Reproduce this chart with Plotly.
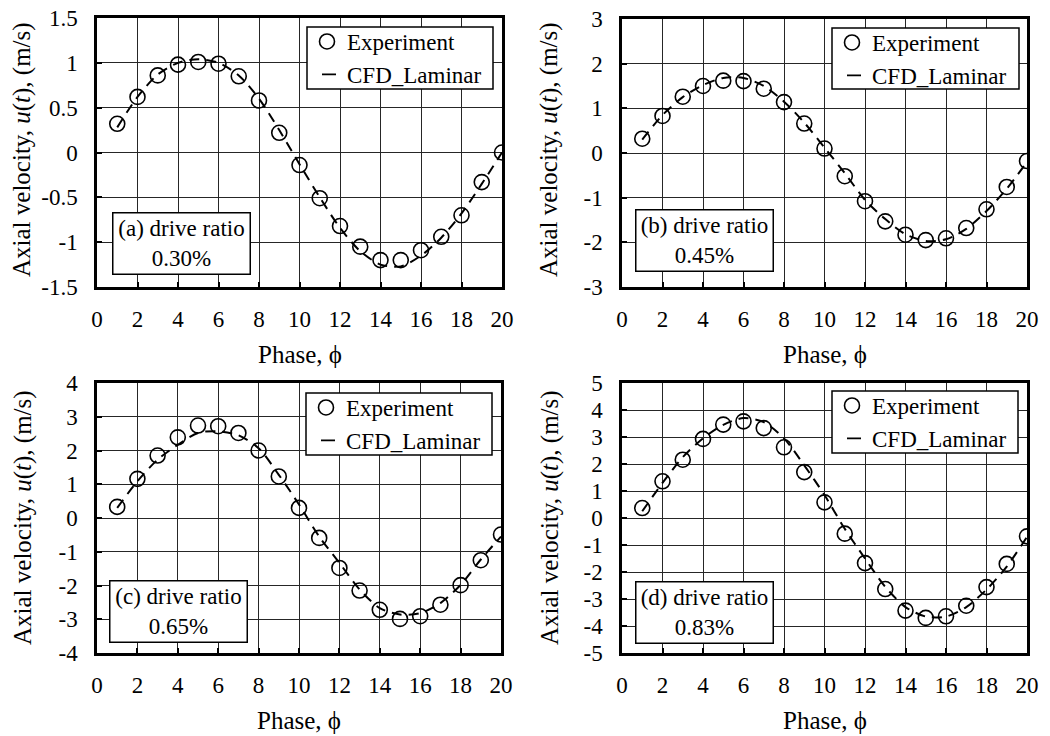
import plotly.graph_objects as go

W, H = 1050, 736

# ---------------- data ----------------
phase = list(range(1, 21))

exp_a = [0.32, 0.62, 0.86, 0.98, 1.01, 0.99, 0.85, 0.58, 0.22, -0.14,
         -0.51, -0.82, -1.05, -1.20, -1.20, -1.09, -0.94, -0.70, -0.33, 0.00]
cfd_a = [0.28, 0.62, 0.87, 1.00, 1.04, 1.00, 0.86, 0.60, 0.25, -0.13,
         -0.50, -0.84, -1.10, -1.25, -1.27, -1.15, -0.95, -0.68, -0.35, 0.00]

exp_b = [0.32, 0.83, 1.26, 1.50, 1.62, 1.61, 1.44, 1.14, 0.66, 0.10,
         -0.52, -1.08, -1.53, -1.83, -1.95, -1.91, -1.68, -1.26, -0.76, -0.18]
cfd_b = [0.30, 0.85, 1.25, 1.52, 1.68, 1.68, 1.50, 1.15, 0.68, 0.12,
         -0.45, -1.05, -1.48, -1.82, -1.97, -1.93, -1.70, -1.30, -0.80, -0.20]

exp_c = [0.33, 1.16, 1.85, 2.39, 2.74, 2.72, 2.52, 2.00, 1.23, 0.30,
         -0.59, -1.48, -2.15, -2.72, -2.99, -2.91, -2.57, -1.99, -1.25, -0.49]
cfd_c = [0.30, 1.09, 1.73, 2.17, 2.52, 2.57, 2.45, 2.07, 1.28, 0.40,
         -0.55, -1.33, -2.12, -2.67, -2.86, -2.82, -2.52, -1.98, -1.23, -0.55]

exp_d = [0.37, 1.36, 2.16, 2.93, 3.46, 3.58, 3.33, 2.62, 1.70, 0.58,
         -0.58, -1.67, -2.63, -3.43, -3.70, -3.64, -3.25, -2.56, -1.70, -0.68]
cfd_d = [0.25, 1.30, 2.25, 2.95, 3.45, 3.70, 3.55, 2.95, 1.95, 0.85,
         -0.40, -1.50, -2.55, -3.30, -3.65, -3.65, -3.30, -2.65, -1.80, -0.70]

x_ticks = [0, 2, 4, 6, 8, 10, 12, 14, 16, 18, 20]
y_ticks_a = [1.5, 1, 0.5, 0, -0.5, -1, -1.5]
y_text_a = ["1.5", "1", "0.5", "0", "-0.5", "-1", "-1.5"]
y_ticks_b = [3, 2, 1, 0, -1, -2, -3]
y_text_b = ["3", "2", "1", "0", "-1", "-2", "-3"]
y_ticks_c = [4, 3, 2, 1, 0, -1, -2, -3, -4]
y_text_c = ["4", "3", "2", "1", "0", "-1", "-2", "-3", "-4"]
y_ticks_d = [5, 4, 3, 2, 1, 0, -1, -2, -3, -4, -5]
y_text_d = ["5", "4", "3", "2", "1", "0", "-1", "-2", "-3", "-4", "-5"]

panel_labels = ["(a) drive ratio<br>0.30%", "(b) drive ratio<br>0.45%",
                "(c) drive ratio<br>0.65%", "(d) drive ratio<br>0.83%"]
series_names = ["Experiment", "CFD_Laminar"]
x_title = "Phase, \u03d5"
y_title = "Axial velocity, <i>u</i>(<i>t</i>), (m/s)"

# ---------------- layout helpers ----------------
FONT = "Liberation Serif"
GRID = "#262626"


def px(x):
    return x / W


def py(y):
    return 1 - y / H


# pixel boxes of plot areas: (left, right, top, bottom)
boxes = [(97, 502, 18, 287), (622, 1027, 19, 287),
         (97, 501, 383, 653), (622, 1027, 383, 653)]
# legend frames: (left, top, right, bottom)
legend_box = [(307, 27, 493, 89), (832, 28, 1019, 89),
              (306, 393, 492, 455), (832, 391, 1018, 453)]
label_pos = [(181, 243), (704, 240), (178, 611), (704, 612)]
ytitle_pos = [(22, 150), (549, 150), (23, 518), (550, 518)]

panels = [
    (exp_a, cfd_a, y_ticks_a, y_text_a, [-1.5, 1.5]),
    (exp_b, cfd_b, y_ticks_b, y_text_b, [-3, 3]),
    (exp_c, cfd_c, y_ticks_c, y_text_c, [-4, 4]),
    (exp_d, cfd_d, y_ticks_d, y_text_d, [-5, 5]),
]

fig = go.Figure()
annotations = []
shapes = []
layout = dict(
    width=W, height=H,
    margin=dict(l=0, r=0, t=0, b=0, pad=0, autoexpand=False),
    paper_bgcolor="white", plot_bgcolor="white",
    font=dict(family=FONT, size=22, color="black"),
)

for i, (exp_v, cfd_v, yt, ytt, yr) in enumerate(panels):
    n = i + 1
    xa = "x" if n == 1 else f"x{n}"
    ya = "y" if n == 1 else f"y{n}"
    leg = "legend" if n == 1 else f"legend{n}"
    l, r, t, b = boxes[i]

    fig.add_trace(go.Scatter(
        x=phase, y=cfd_v, mode="lines", xaxis=xa, yaxis=ya,
        line=dict(color="black", width=2, dash="10px,7px", shape="spline", smoothing=0.8),
        showlegend=False, hoverinfo="skip"))
    fig.add_trace(go.Scatter(
        x=phase, y=exp_v, mode="markers", xaxis=xa, yaxis=ya,
        name=series_names[0], legend=leg,
        marker=dict(symbol="circle-open", size=15, color="black",
                    line=dict(color="black", width=1.6))))
    # legend entry for the CFD line (short solid dash like the original)
    fig.add_trace(go.Scatter(
        x=[None], y=[None], mode="lines", xaxis=xa, yaxis=ya,
        name=series_names[1], legend=leg,
        line=dict(color="black", width=1.6, dash="0px,10px,14px,200px")))

    axkey_x = "xaxis" if n == 1 else f"xaxis{n}"
    axkey_y = "yaxis" if n == 1 else f"yaxis{n}"
    layout[axkey_x] = dict(
        domain=[px(l), px(r)], anchor=ya, range=[0, 20],
        tickvals=x_ticks, ticktext=[str(v) for v in x_ticks],
        showgrid=True, gridcolor=GRID, gridwidth=1,
        showline=True, linecolor="black", linewidth=2.5, mirror=True,
        ticks="inside", ticklen=5, tickwidth=1.5, tickcolor="black",
        ticklabelstandoff=10, zeroline=False, automargin=False,
        tickfont=dict(family=FONT, size=23, color="black"),
    )
    layout[axkey_y] = dict(
        domain=[py(b), py(t)], anchor=xa, range=yr,
        tickvals=yt, ticktext=ytt,
        showgrid=True, gridcolor=GRID, gridwidth=1,
        showline=True, linecolor="black", linewidth=2.5, mirror=True,
        ticks="inside", ticklen=5, tickwidth=1.5, tickcolor="black",
        ticklabelstandoff=12, zeroline=False, automargin=False,
        tickfont=dict(family=FONT, size=23, color="black"),
    )
    # legend frame drawn as a white box, legend items placed inside it
    bl, bt, br, bb = legend_box[i]
    shapes.append(dict(
        type="rect", xref="paper", yref="paper",
        x0=px(bl), x1=px(br), y0=py(bb), y1=py(bt),
        line=dict(color="black", width=1.5), fillcolor="white", layer="above"))
    layout[leg] = dict(
        x=px(bl), y=py(bt - 7), xanchor="left", yanchor="top",
        bgcolor="rgba(0,0,0,0)", borderwidth=0,
        font=dict(family=FONT, size=23, color="black"),
        tracegroupgap=0, itemwidth=30,
    )
    # panel label box
    ax_, ay_ = label_pos[i]
    annotations.append(dict(
        text=panel_labels[i], xref="paper", yref="paper",
        x=px(ax_), y=py(ay_), xanchor="center", yanchor="middle",
        showarrow=False, font=dict(family=FONT, size=23, color="black"),
        bgcolor="white", bordercolor="black", borderwidth=1.5,
        borderpad=3, width=130, height=54, align="center"))
    # axis titles
    tx, ty = ytitle_pos[i]
    annotations.append(dict(
        text=y_title, xref="paper", yref="paper", x=px(tx), y=py(ty),
        xanchor="center", yanchor="middle", textangle=-90, showarrow=False,
        font=dict(family=FONT, size=25, color="black")))
    annotations.append(dict(
        text=x_title, xref="paper", yref="paper",
        x=px((l + r) / 2), y=py(b + 67), xanchor="center", yanchor="middle",
        showarrow=False, font=dict(family=FONT, size=25, color="black")))

layout["annotations"] = annotations
layout["shapes"] = shapes
fig.update_layout(**layout)
fig.write_html("out.html")
